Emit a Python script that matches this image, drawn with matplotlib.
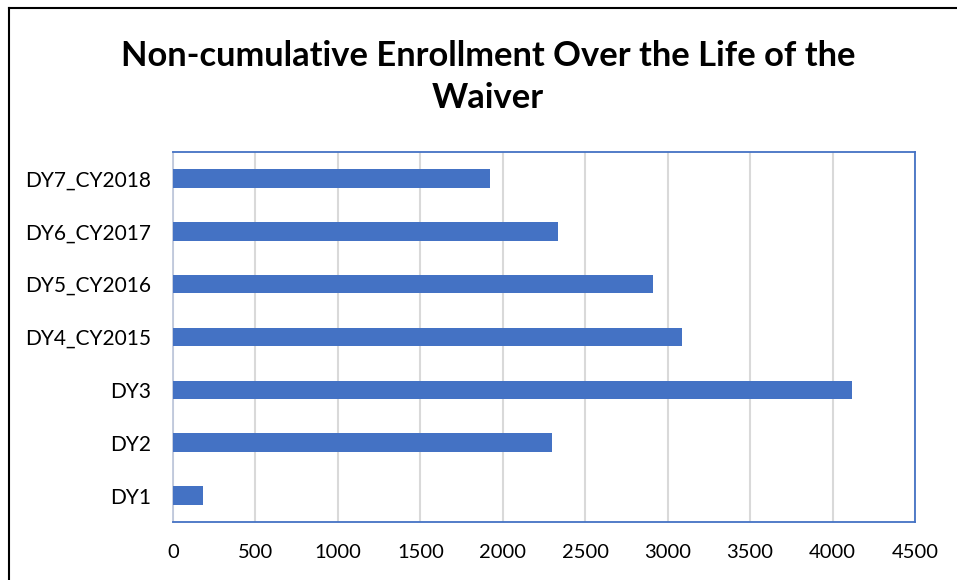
import matplotlib
matplotlib.use("Agg")
import matplotlib.pyplot as plt
from matplotlib.lines import Line2D

# enrollment per demonstration year
categories = ['DY1', 'DY2', 'DY3', 'DY4_CY2015', 'DY5_CY2016', 'DY6_CY2017', 'DY7_CY2018']
enrollment = [180, 2300, 4120, 3085, 2910, 2335, 1925]
xticks = [0, 500, 1000, 1500, 2000, 2500, 3000, 3500, 4000, 4500]

blue = '#4472C4'
plt.rcParams['font.family'] = ['Lato', 'DejaVu Sans']

fig = plt.figure(figsize=(9.57, 5.8), dpi=100)
ax = fig.add_axes([173/957, 1 - 522/580, (915 - 173)/957, (522 - 152)/580])

ax.barh(range(len(categories)), enrollment, height=0.35, color=blue, zorder=3)
ax.set_ylim(-0.5, len(categories) - 0.5)
ax.set_xlim(0, 4500)
ax.set_xticks(xticks)
ax.set_yticks(range(len(categories)))
ax.set_yticklabels(categories)
ax.grid(axis='x', color='#D9D9D9', linewidth=1.5, zorder=0)
ax.tick_params(axis='y', length=0, labelsize=15, pad=16)
ax.tick_params(axis='x', length=0, labelsize=14.5, pad=16)
for s in ax.spines.values():
    s.set_color(blue)
    s.set_linewidth(1.3)
ax.spines['left'].set_color('#BFC8DC')

fig.text(488/957, 1 - 77/580, 'Non-cumulative Enrollment Over the Life of the\nWaiver',
         ha='center', va='center', fontsize=24.8, fontweight='bold', linespacing=1.35)

# outer chart frame (left and top edges visible)
fig.add_artist(Line2D([9/957, 9/957], [0, 1 - 8/580], color='black', linewidth=1.5))
fig.add_artist(Line2D([9/957, 1], [1 - 8/580, 1 - 8/580], color='black', linewidth=1.5))

fig.savefig('out.png', dpi=100)
